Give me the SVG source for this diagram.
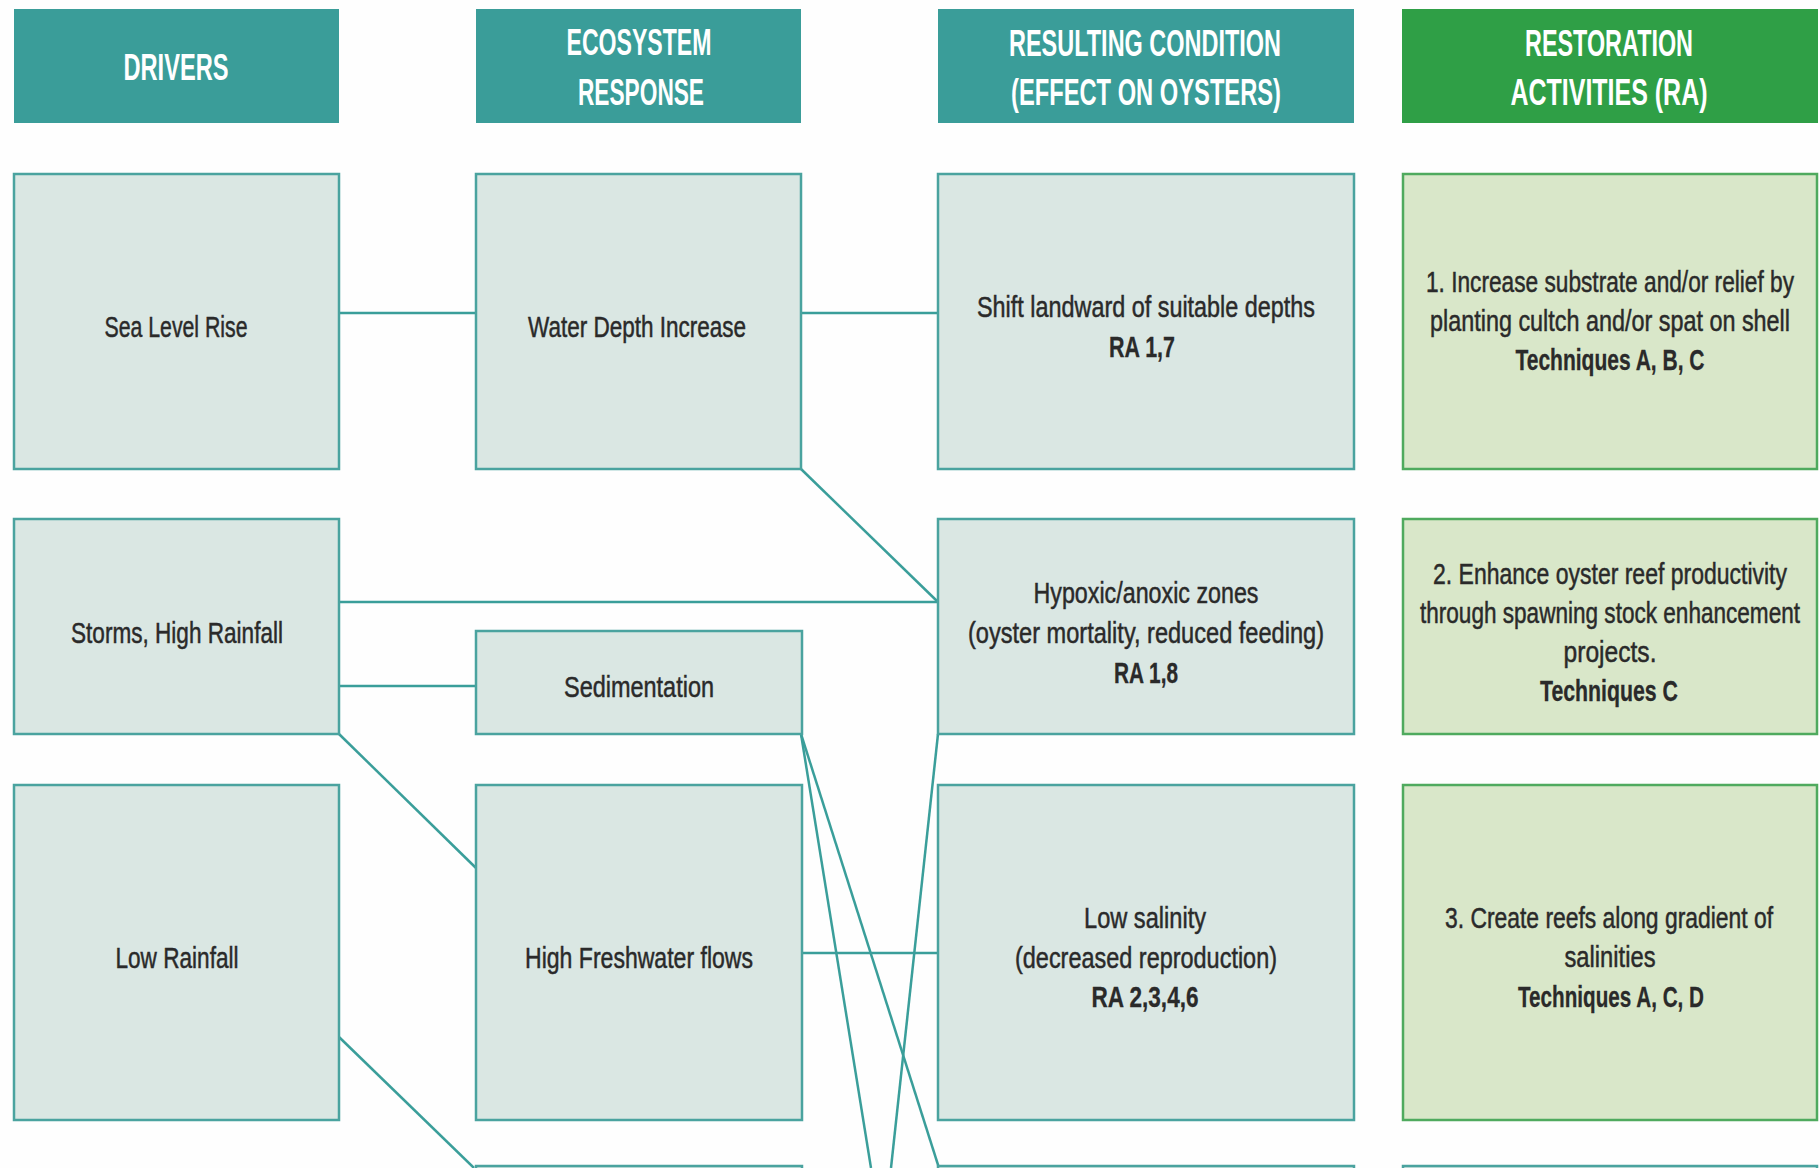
<svg xmlns="http://www.w3.org/2000/svg" width="1820" height="1168" viewBox="0 0 1820 1168">
<style>
.bg{fill:#fefefe}
.hd{fill:#3a9d99}
.hdg{fill:#2f9f46}
.bx{fill:#dae7e3;stroke:#4aa39f;stroke-width:2.5}
.gb{fill:#d9e7c9;stroke:#4faa5e;stroke-width:2.5}
.ht{font-family:"Liberation Sans Narrow","Liberation Sans","DejaVu Sans Condensed",sans-serif;font-weight:bold;font-size:36px;fill:#ffffff;text-anchor:middle}
.t{font-family:"Liberation Sans Narrow","Liberation Sans","DejaVu Sans Condensed",sans-serif;font-size:30px;fill:#2a2a2a;stroke:#2a2a2a;stroke-width:0.5;text-anchor:middle}
.b{font-weight:bold;stroke-width:0.3}
.cn{stroke:#3a9e9a;stroke-width:2.5;fill:none}
</style>
<rect class="bg" x="0" y="0" width="1820" height="1168"/>

<g id="connectors">
<line class="cn" x1="339" y1="313" x2="476" y2="313"/>
<line class="cn" x1="801" y1="313" x2="938" y2="313"/>
<line class="cn" x1="801" y1="469" x2="938" y2="602"/>
<line class="cn" x1="339" y1="602" x2="938" y2="602"/>
<line class="cn" x1="339" y1="686" x2="476" y2="686"/>
<line class="cn" x1="339" y1="734" x2="476" y2="868"/>
<line class="cn" x1="801" y1="953" x2="938" y2="953"/>
<line class="cn" x1="339" y1="1037" x2="474" y2="1168"/>
<line class="cn" x1="801" y1="734" x2="871" y2="1168"/>
<line class="cn" x1="801" y1="734" x2="939" y2="1168"/>
<line class="cn" x1="938" y1="734" x2="891" y2="1168"/>
</g>

<g id="hdr-drivers">
<rect class="hd" x="14" y="9" width="325" height="114"/>
<text class="ht" x="176" y="80" textLength="105" lengthAdjust="spacingAndGlyphs">DRIVERS</text>
</g>
<g id="hdr-ecosystem">
<rect class="hd" x="476" y="9" width="325" height="114"/>
<text class="ht" x="639" y="55" textLength="145" lengthAdjust="spacingAndGlyphs">ECOSYSTEM</text>
<text class="ht" x="641" y="105" textLength="126" lengthAdjust="spacingAndGlyphs">RESPONSE</text>
</g>
<g id="hdr-condition">
<rect class="hd" x="938" y="9" width="416" height="114"/>
<text class="ht" x="1145" y="56" textLength="272" lengthAdjust="spacingAndGlyphs">RESULTING CONDITION</text>
<text class="ht" x="1146" y="105" textLength="270" lengthAdjust="spacingAndGlyphs">(EFFECT ON OYSTERS)</text>
</g>
<g id="hdr-restoration">
<rect class="hdg" x="1402" y="9" width="416" height="114"/>
<text class="ht" x="1609" y="56" textLength="168" lengthAdjust="spacingAndGlyphs">RESTORATION</text>
<text class="ht" x="1609" y="105" textLength="197" lengthAdjust="spacingAndGlyphs">ACTIVITIES (RA)</text>
</g>

<g id="sea-level-rise">
<rect class="bx" x="14" y="174" width="325" height="295"/>
<text class="t" x="176" y="337" textLength="143" lengthAdjust="spacingAndGlyphs">Sea Level Rise</text>
</g>
<g id="water-depth">
<rect class="bx" x="476" y="174" width="325" height="295"/>
<text class="t" x="637" y="337" textLength="218" lengthAdjust="spacingAndGlyphs">Water Depth Increase</text>
</g>
<g id="shift-landward">
<rect class="bx" x="938" y="174" width="416" height="295"/>
<text class="t" x="1146" y="317" textLength="338" lengthAdjust="spacingAndGlyphs">Shift landward of suitable depths</text>
<text class="t b" x="1142" y="357" textLength="66" lengthAdjust="spacingAndGlyphs">RA 1,7</text>
</g>
<g id="ra1">
<rect class="gb" x="1403" y="174" width="414" height="295"/>
<text class="t" x="1610" y="292" textLength="368" lengthAdjust="spacingAndGlyphs">1. Increase substrate and/or relief by</text>
<text class="t" x="1610" y="331" textLength="360" lengthAdjust="spacingAndGlyphs">planting cultch and/or spat on shell</text>
<text class="t b" x="1610" y="370" textLength="189" lengthAdjust="spacingAndGlyphs">Techniques A, B, C</text>
</g>

<g id="storms">
<rect class="bx" x="14" y="519" width="325" height="215"/>
<text class="t" x="177" y="643" textLength="212" lengthAdjust="spacingAndGlyphs">Storms, High Rainfall</text>
</g>
<g id="sedimentation">
<rect class="bx" x="476" y="631" width="326" height="103"/>
<text class="t" x="639" y="697" textLength="150" lengthAdjust="spacingAndGlyphs">Sedimentation</text>
</g>
<g id="hypoxic">
<rect class="bx" x="938" y="519" width="416" height="215"/>
<text class="t" x="1146" y="603" textLength="225" lengthAdjust="spacingAndGlyphs">Hypoxic/anoxic zones</text>
<text class="t" x="1146" y="643" textLength="356" lengthAdjust="spacingAndGlyphs">(oyster mortality, reduced feeding)</text>
<text class="t b" x="1146" y="683" textLength="64" lengthAdjust="spacingAndGlyphs">RA 1,8</text>
</g>
<g id="ra2">
<rect class="gb" x="1403" y="519" width="414" height="215"/>
<text class="t" x="1610" y="584" textLength="354" lengthAdjust="spacingAndGlyphs">2. Enhance oyster reef productivity</text>
<text class="t" x="1610" y="623" textLength="380" lengthAdjust="spacingAndGlyphs">through spawning stock enhancement</text>
<text class="t" x="1610" y="662" textLength="93" lengthAdjust="spacingAndGlyphs">projects.</text>
<text class="t b" x="1609" y="701" textLength="138" lengthAdjust="spacingAndGlyphs">Techniques C</text>
</g>

<g id="low-rainfall">
<rect class="bx" x="14" y="785" width="325" height="335"/>
<text class="t" x="177" y="968" textLength="123" lengthAdjust="spacingAndGlyphs">Low Rainfall</text>
</g>
<g id="high-freshwater">
<rect class="bx" x="476" y="785" width="326" height="335"/>
<text class="t" x="639" y="968" textLength="228" lengthAdjust="spacingAndGlyphs">High Freshwater flows</text>
</g>
<g id="low-salinity">
<rect class="bx" x="938" y="785" width="416" height="335"/>
<text class="t" x="1145" y="928" textLength="122" lengthAdjust="spacingAndGlyphs">Low salinity</text>
<text class="t" x="1146" y="968" textLength="262" lengthAdjust="spacingAndGlyphs">(decreased reproduction)</text>
<text class="t b" x="1145" y="1007" textLength="107" lengthAdjust="spacingAndGlyphs">RA 2,3,4,6</text>
</g>
<g id="ra3">
<rect class="gb" x="1403" y="785" width="414" height="335"/>
<text class="t" x="1609" y="928" textLength="328" lengthAdjust="spacingAndGlyphs">3. Create reefs along gradient of</text>
<text class="t" x="1610" y="967" textLength="91" lengthAdjust="spacingAndGlyphs">salinities</text>
<text class="t b" x="1611" y="1007" textLength="186" lengthAdjust="spacingAndGlyphs">Techniques A, C, D</text>
</g>

<g id="next-row-ecosystem">
<rect class="bx" x="476" y="1166" width="326" height="40"/>
</g>
<g id="next-row-condition">
<rect class="bx" x="938" y="1166" width="416" height="40"/>
</g>
<g id="next-row-restoration">
<rect class="bx" x="1403" y="1166" width="414" height="40"/>
</g>
</svg>
